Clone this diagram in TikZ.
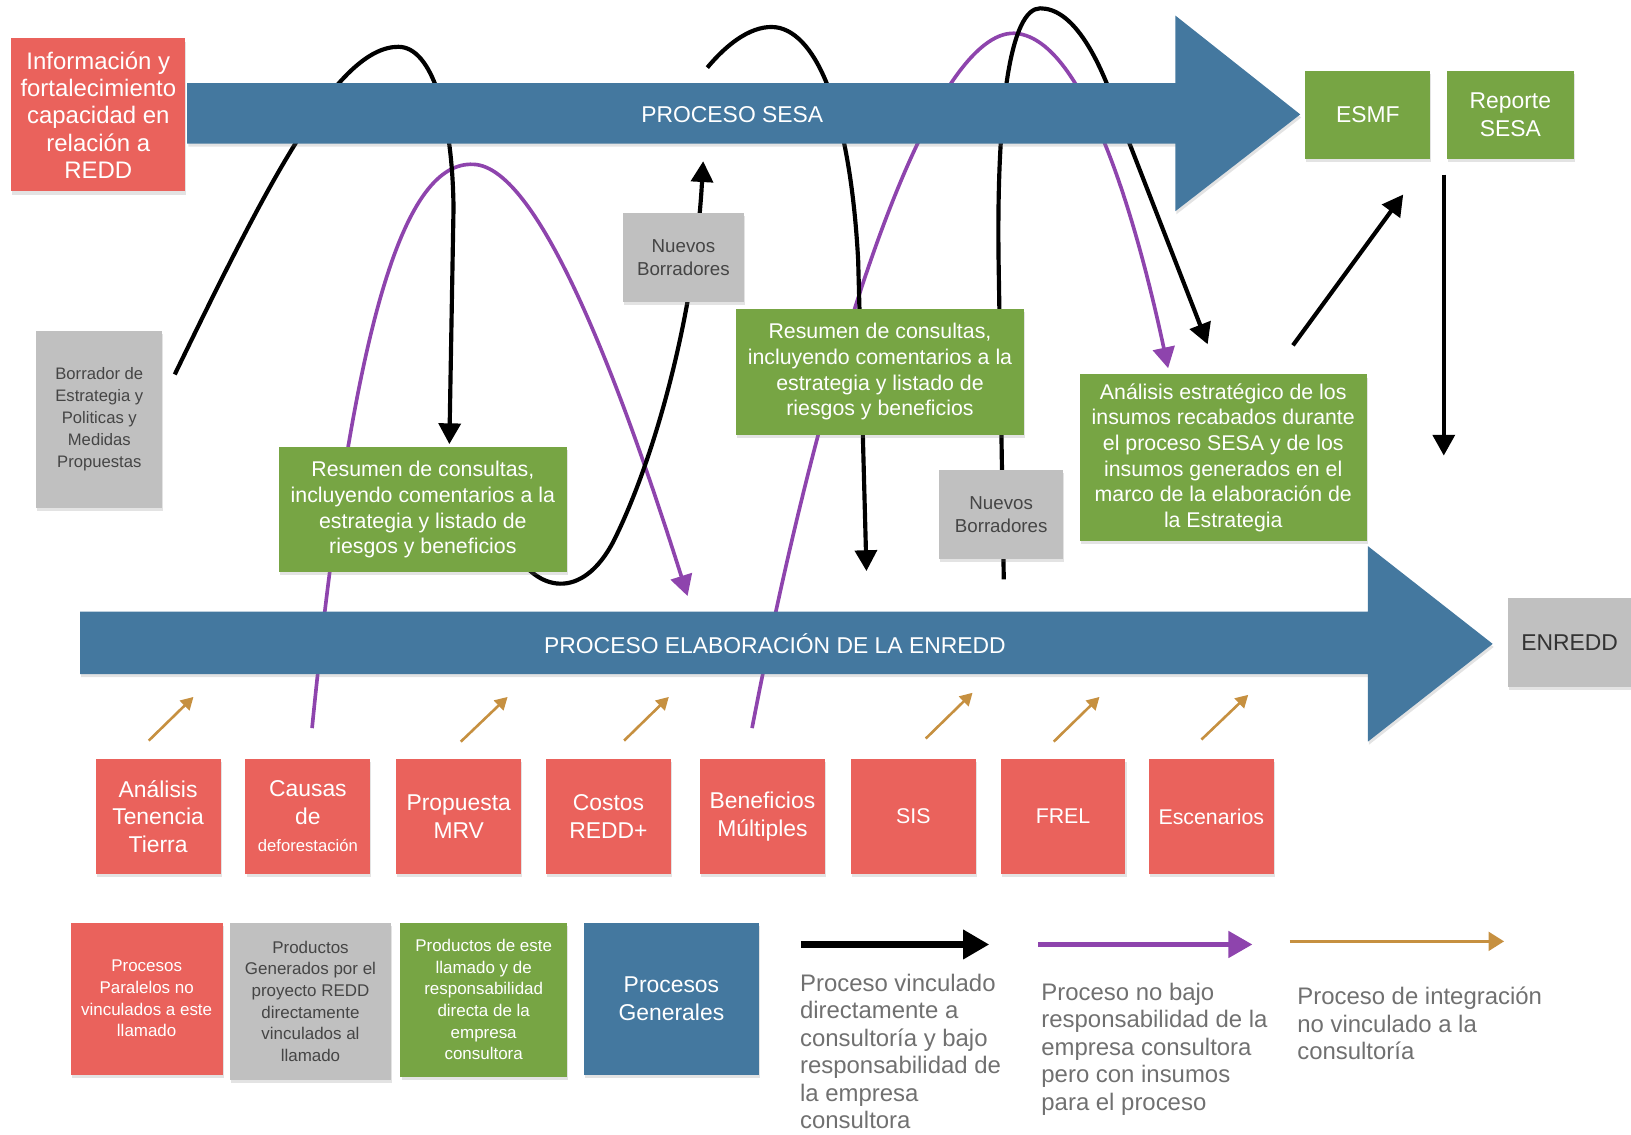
\documentclass[tikz,border=0pt]{standalone}
\usepackage{fontspec}
\setmainfont{Liberation Sans}
\usetikzlibrary{arrows.meta,shadows}
\definecolor{sblue}{HTML}{44789F}
\definecolor{sred}{HTML}{EA625C}
\definecolor{sgreen}{HTML}{77A544}
\definecolor{sgray}{HTML}{C0C0C0}
\definecolor{spurple}{HTML}{8E44AD}
\definecolor{sbrown}{HTML}{C69040}
\definecolor{dtext}{HTML}{454545}
\definecolor{ltext}{HTML}{707070}
\pgfdeclarelayer{bg}
\pgfsetlayers{bg,main}
\begin{document}
\begin{tikzpicture}[x=1pt,y=-1pt,
  shd/.style={drop shadow={shadow xshift=1pt,shadow yshift=-3pt,opacity=0.22}},
  boxb/.style={shd,inner sep=0pt,align=center},
  rbox/.style={boxb,fill=sred,text=white},
  gbox/.style={boxb,fill=sgreen,text=white},
  ybox/.style={boxb,fill=sgray,text=dtext},
  bbox/.style={boxb,fill=sblue,text=white},
  fbig/.style={font=\fontsize{22}{26.4}\selectfont},
  fmid/.style={font=\fontsize{20.5}{24.7}\selectfont},
  fnb/.style={font=\fontsize{18}{22}\selectfont},
  fsm/.style={font=\fontsize{16.3}{20.8}\selectfont},
  legtext/.style={inner sep=0pt,anchor=north west,align=left,text=ltext,font=\fontsize{23}{26.4}\selectfont},
  blkline/.style={line width=4pt},
  blk/.style={line width=4pt,-{Triangle[length=20pt,width=21pt]}},
  pur/.style={spurple,line width=3.5pt,-{Triangle[length=20pt,width=21pt]}},
  brn/.style={sbrown,line width=2.5pt,-{Triangle[length=12pt,width=13pt]}}
]
\useasboundingbox (0,0) rectangle (1568,1091);

% big process arrows
\fill[sblue,shd] (180,80) -- (1130,80) -- (1130,15) -- (1250,110) -- (1130,203) -- (1130,138) -- (180,138) -- cycle;
\node[text=white,fbig,inner sep=0pt] (sesa) at (704,110) {PROCESO SESA};
\fill[sblue,shd] (77,588) -- (1315,588) -- (1315,525) -- (1435,619) -- (1315,713) -- (1315,648) -- (77,648) -- cycle;
\node[text=white,fbig,inner sep=0pt] (enr) at (745,619) {PROCESO ELABORACIÓN DE LA ENREDD};

% top boxes
\node[rbox,minimum width=167pt,minimum height=147pt,font=\fontsize{23}{26.3}\selectfont] (info) at (94.5,110.5) {Información y\\fortalecimiento\\capacidad en\\relación a\\REDD};
\node[gbox,fbig,minimum width=120pt,minimum height=85pt] (esmf) at (1315,110.5) {ESMF};
\node[gbox,fbig,minimum width=122pt,minimum height=85pt] (rep) at (1452,110.5) {Reporte\\SESA};
\node[ybox,font=\fontsize{16}{21}\selectfont,minimum width=121pt,minimum height=170pt] (borr) at (95.5,403) {Borrador de\\Estrategia y\\Politicas y\\Medidas\\Propuestas};
\node[ybox,fnb,minimum width=116pt,minimum height=85pt] (nb1) at (657,247.5) {Nuevos\\Borradores};
\node[ybox,fnb,minimum width=119pt,minimum height=85pt] (nb2) at (962.5,494.5) {Nuevos\\Borradores};
\node[gbox,fmid,minimum width=277pt,minimum height=120pt] (res1) at (406.5,490) {Resumen de consultas,\\incluyendo comentarios a la\\estrategia y listado de\\riesgos y beneficios};
\node[gbox,fmid,minimum width=276pt,minimum height=121pt] (res2) at (846,357.5) {Resumen de consultas,\\incluyendo comentarios a la\\estrategia y listado de\\riesgos y beneficios};
\node[gbox,fmid,minimum width=276pt,minimum height=160pt] (ana) at (1176,440) {Análisis estratégico de los\\insumos recabados durante\\el proceso SESA y de los\\insumos generados en el\\marco de la elaboración de\\la Estrategia};
\node[ybox,fbig,text=black!80,minimum width=118pt,minimum height=85pt] (enredd) at (1509,617.5) {ENREDD};

% red row
\tikzset{rrow/.style={rbox,minimum width=120pt,minimum height=110pt}}
\node[rrow,fbig] (r1) at (152,785) {Análisis\\Tenencia\\Tierra};
\node[rrow,fbig] (r2) at (296,785) {Causas\\de\\{\fontsize{16}{20}\selectfont deforestación}};
\node[rrow,fbig] (r3) at (441,785) {Propuesta\\MRV};
\node[rrow,fbig] (r4) at (585,785) {Costos\\REDD+};
\node[rrow,fbig] (r5) at (733,785) {Beneficios\\Múltiples};
\node[rrow,font=\fontsize{20.5}{25}\selectfont] (r6) at (878,785) {SIS};
\node[rrow,font=\fontsize{20.5}{25}\selectfont] (r7) at (1022,785) {FREL};
\node[rrow,font=\fontsize{20.5}{25}\selectfont] (r8) at (1164.5,785) {Escenarios};

% legend boxes
\node[rbox,fsm,minimum width=146pt,minimum height=146pt] (l1) at (141,960) {Procesos\\Paralelos no\\vinculados a este\\llamado};
\node[ybox,fsm,minimum width=155pt,minimum height=151pt] (l2) at (298.5,962.5) {Productos\\Generados por el\\proyecto REDD\\directamente\\vinculados al\\llamado};
\node[gbox,fsm,minimum width=160pt,minimum height=148pt] (l3) at (465,961) {Productos de este\\llamado y de\\responsabilidad\\directa de la\\empresa\\consultora};
\node[bbox,fbig,minimum width=169pt,minimum height=146pt] (l4) at (645.5,960) {Procesos\\Generales};

% legend arrows and texts
\coordinate (la1) at (770,908); \coordinate (lb1) at (951,908);
\coordinate (la2) at (998,908); \coordinate (lb2) at (1204,908);
\coordinate (la3) at (1240,905); \coordinate (lb3) at (1446,905);
\draw[line width=6pt,-{Triangle[length=25pt,width=27pt]}] (la1) -- (lb1);
\draw[spurple,line width=4.5pt,-{Triangle[length=23pt,width=25pt]}] (la2) -- (lb2);
\draw[sbrown,line width=3pt,-{Triangle[length=15pt,width=18pt]}] (la3) -- (lb3);
\node[legtext] (t1) at (769,936) {Proceso vinculado\\directamente a\\consultoría y bajo\\responsabilidad de\\la empresa\\consultora};
\node[legtext] (t2) at (1001,945) {Proceso no bajo\\responsabilidad de la\\empresa consultora\\pero con insumos\\para el proceso};
\node[legtext] (t3) at (1247,949) {Proceso de integración\\no vinculado a la\\consultoría};

% integration arrows (brown)
\foreach \i/\ax/\ay/\bx/\by in {1/143/712/186/670, 2/443/713/488/670, 3/600/712/643/670, 4/890/710/935/666, 5/1013/713/1057/670, 6/1155/711/1200/668}{
  \coordinate (ba\i) at (\ax,\ay); \coordinate (bb\i) at (\bx,\by);
  \draw[brn] (ba\i) -- (bb\i);
}

% straight black arrows
\coordinate (s1a) at (1243,332); \coordinate (s1b) at (1349,187);
\coordinate (s2a) at (1388,168); \coordinate (s2b) at (1388,438);
\draw[blk] (s1a) -- (s1b);
\draw[blk] (s2a) -- (s2b);

% curves behind boxes and arrows
\coordinate (c1a) at (168,360); \coordinate (c1b) at (432,427);
\coordinate (c2a) at (492,525); \coordinate (c2b) at (676,155);
\coordinate (c3a) at (680,65);  \coordinate (c3b) at (833,549);
\coordinate (c4a) at (965,557); \coordinate (c4b) at (1161,331);
\coordinate (p1a) at (300,700); \coordinate (p1b) at (661,573);
\coordinate (p2a) at (723,700); \coordinate (p2b) at (1123,354);
\begin{pgfonlayer}{bg}
\draw[pur] (p1a) .. controls (340,300) and (390,155) .. (455,158) .. controls (520,160) and (600,380) .. (p1b);
\draw[pur] (p2a) .. controls (800,300) and (900,30) .. (975,32) .. controls (1040,35) and (1090,200) .. (p2b);
\draw[blk] (c1a) .. controls (260,170) and (325,45) .. (383,45) .. controls (415,45) and (435,110) .. (436,200) -- (c1b);
\draw[blk] (c2a) .. controls (515,570) and (560,578) .. (590,520) .. controls (630,440) and (668,300) .. (c2b);
\draw[blk] (c3a) .. controls (705,35) and (730,22) .. (750,27) .. controls (790,38) and (818,120) .. (825,250) -- (c3b);
\draw[blk] (c4a) -- (960,250) .. controls (958,100) and (972,8) .. (1000,8) .. controls (1030,8) and (1055,50) .. (1075,110) -- (c4b);
\end{pgfonlayer}
\end{tikzpicture}
\end{document}
